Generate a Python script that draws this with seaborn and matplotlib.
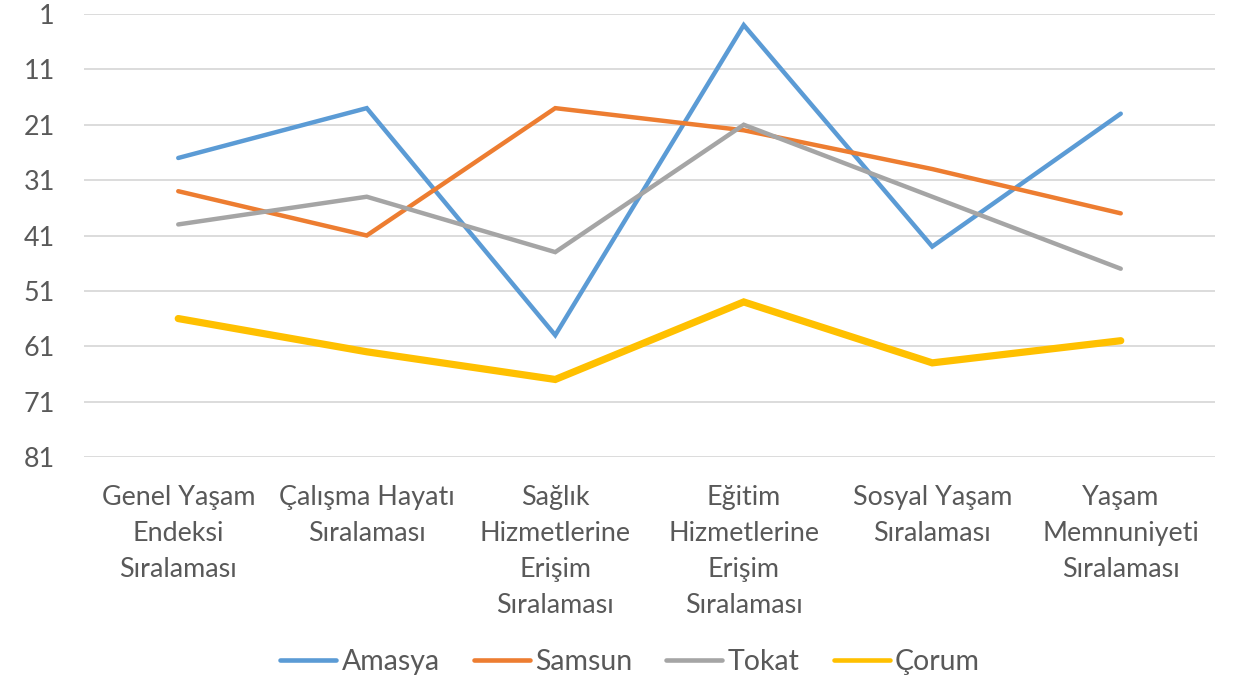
import matplotlib
matplotlib.use("Agg")
import matplotlib.pyplot as plt
import seaborn as sns
import pandas as pd

categories = ["Genel Yaşam\nEndeksi\nSıralaması", "Çalışma Hayatı\nSıralaması",
              "Sağlık\nHizmetlerine\nErişim\nSıralaması", "Eğitim\nHizmetlerine\nErişim\nSıralaması",
              "Sosyal Yaşam\nSıralaması", "Yaşam\nMemnuniyeti\nSıralaması"]
amasya = [27, 18, 59, 3, 43, 19]
samsun = [33, 41, 18, 22, 29, 37]
tokat = [39, 34, 44, 21, 34, 47]
corum = [56, 62, 67, 53, 64, 60]
series_names = ["Amasya", "Samsun", "Tokat", "Çorum"]
yticks = [1, 11, 21, 31, 41, 51, 61, 71, 81]

colors = {"Amasya": "#5B9BD5", "Samsun": "#ED7D31", "Tokat": "#A5A5A5", "Çorum": "#FFC000"}
widths = {"Amasya": 3.2, "Samsun": 3.2, "Tokat": 3.2, "Çorum": 5.2}

rows = []
for name, vals in zip(series_names, [amasya, samsun, tokat, corum]):
    for i, v in enumerate(vals):
        rows.append({"x": i, "val": v, "series": name})
df = pd.DataFrame(rows)

sns.set_theme(style="white")
plt.rcParams['font.family'] = ['Lato', 'DejaVu Sans']

fig = plt.figure(figsize=(12.4, 6.79), dpi=100)
ax = fig.add_axes([84/1240, 1-457/679, 1131/1240, 443/679])

for name in series_names:
    sub = df[df.series == name]
    sns.lineplot(data=sub, x="x", y="val", ax=ax, color=colors[name],
                 linewidth=widths[name], label=name, solid_capstyle="round",
                 solid_joinstyle="miter")

ax.set_xlim(-0.5, 5.5)
ax.set_ylim(81, 1)
ax.set_yticks(yticks)
ax.set_yticklabels([str(t) for t in yticks], fontsize=19.4, color="#595959")
ax.set_xticks(range(len(categories)))
ax.set_xticklabels(categories, fontsize=19.4, color="#595959", linespacing=1.55)
ax.tick_params(axis="both", length=0)
ax.tick_params(axis="y", pad=21)
ax.tick_params(axis="x", pad=20)
for s in ax.spines.values():
    s.set_visible(False)
ax.grid(axis="y", color="#D9D9D9", linewidth=1.3)
ax.set_axisbelow(True)
ax.set_xlabel("")
ax.set_ylabel("")

leg = ax.legend(loc="center", bbox_to_anchor=(0.5 + 10/1240, (679-662)/679), bbox_transform=fig.transFigure,
                ncol=4, frameon=False, fontsize=20.5, handlelength=1.97, handletextpad=0.18,
                columnspacing=1.2)
for t in leg.get_texts():
    t.set_color("#595959")
for l in leg.get_lines():
    l.set_linewidth(3.3)
    l.set_solid_capstyle("round")

fig.savefig("out.png", dpi=100)
